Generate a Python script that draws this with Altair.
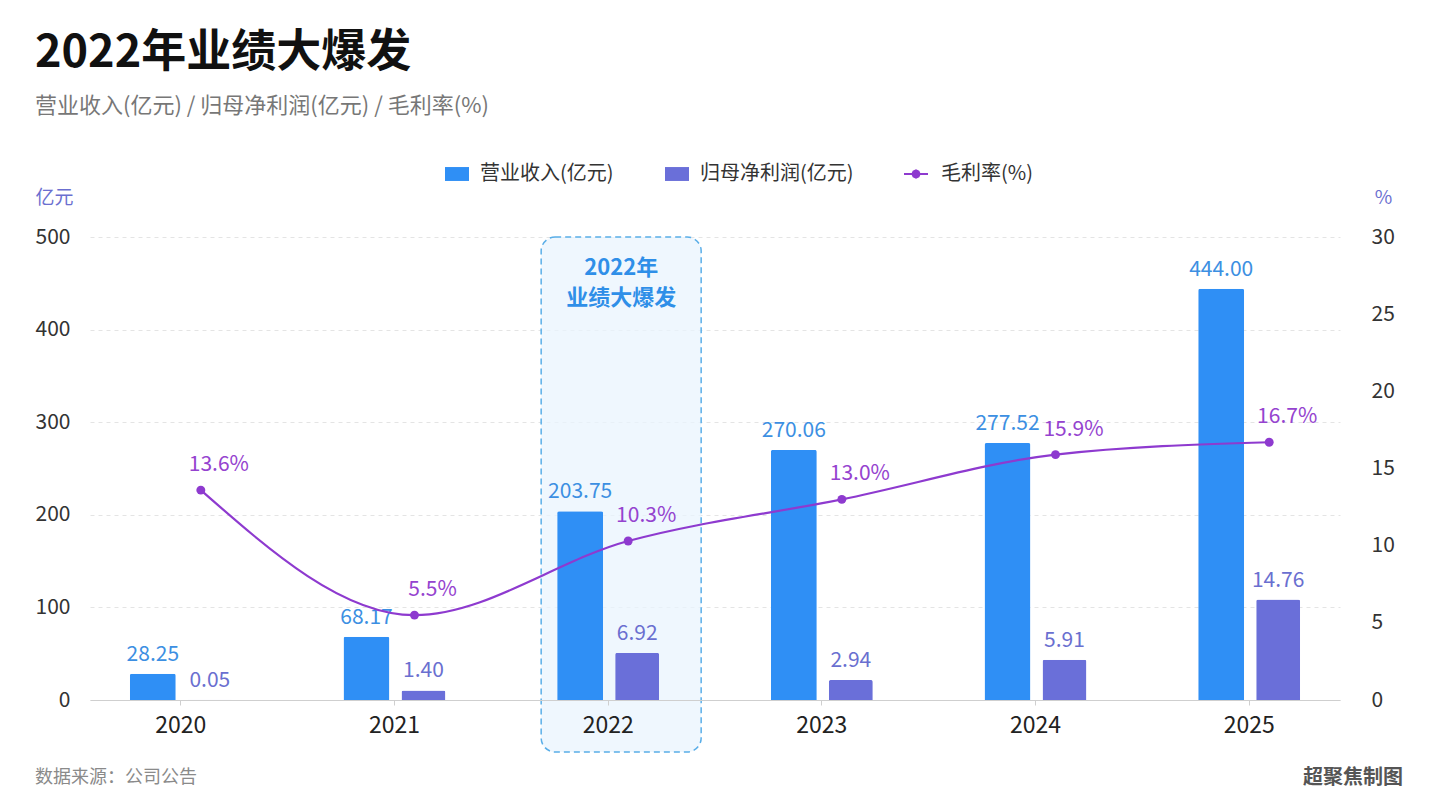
import altair as alt
import pandas as pd

# ---- data ----
years = ["2020", "2021", "2022", "2023", "2024", "2025"]
revenue = [28.25, 68.17, 203.75, 270.06, 277.52, 444.00]        # 营业收入(亿元)
net_profit = [0.05, 1.40, 6.92, 2.94, 5.91, 14.76]              # 归母净利润(亿元)
gross_margin = [13.6, 5.5, 10.3, 13.0, 15.9, 16.7]              # 毛利率(%)

highlight_year = ["2022"]
highlight_note = ["2022年", "业绩大爆发"]

REV_NAME = "营业收入(亿元)"
NET_NAME = "归母净利润(亿元)"
GM_NAME = "毛利率(%)"

df = pd.DataFrame({
    "year": years,
    "revenue": revenue,
    "net": net_profit,
    "gm": gross_margin,
})
df["gm_label"] = [f"{v:.1f}%" for v in gross_margin]
note_df = pd.DataFrame({"year": highlight_year})

FONT = "Noto Sans CJK SC"
BLUE = "#2F8FF5"
INDIGO = "#6A6FD9"
PURPLE = "#8E3ACF"

W, H = 1250, 463

x_enc = alt.X(
    "year:N",
    sort=years,
    scale=alt.Scale(paddingInner=0.15, paddingOuter=0),
    axis=alt.Axis(
        title=None, labelAngle=0, labelFontSize=23, labelColor="#222",
        labelPadding=9, domainColor="#cfcfcf", domainWidth=1.2,
        tickColor="#cfcfcf", tickSize=5, grid=False, zindex=1,
    ),
)

# highlight box around 2022
box = alt.Chart(note_df).mark_bar(
    width=160, cornerRadius=14, fill="#EAF4FE", fillOpacity=0.75,
    stroke="#5AAEE8", strokeDash=[6, 4], strokeWidth=1.5, xOffset=13,
).encode(x=x_enc, y=alt.value(0), y2=alt.value(515))

box_text = alt.Chart(note_df).mark_text(
    fontSize=22, fontWeight="bold", color="#2F8FE8",
    baseline="middle", lineHeight=30, xOffset=13,
    text=highlight_note,
).encode(x=x_enc, y=alt.value(31))

base = alt.Chart(df)

bar_color_scale = alt.Scale(domain=[REV_NAME, NET_NAME], range=[BLUE, INDIGO])

# revenue bars on the left axis
rev_y = alt.Y(
    "revenue:Q",
    scale=alt.Scale(domain=[0, 500], nice=False),
    axis=alt.Axis(
        orient="left", values=[0, 100, 200, 300, 400, 500],
        title="亿元", titleAngle=0, titleX=-55, titleY=-40,
        titleAlign="left", titleBaseline="middle", titleFontSize=19,
        titleFontWeight="normal", titleColor="#6B6FD0",
        labelFontSize=21, labelColor="#333", labelPadding=20,
        domain=False, ticks=False,
        grid=True, gridDash=[4, 4], gridColor="#E4E4E4",
    ),
)
rev_bars = base.transform_calculate(series=f"'{REV_NAME}'").mark_bar(
    width=46, xOffset=-28, cornerRadiusTopLeft=2, cornerRadiusTopRight=2,
).encode(
    x=x_enc, y=rev_y,
    color=alt.Color(
        "series:N",
        scale=bar_color_scale,
        legend=alt.Legend(
            title=None, orient="none", legendX=354, legendY=-76,
            direction="horizontal",
            symbolType="M-1,-0.58H1V0.58H-1Z", symbolSize=576,
            labelFontSize=20, labelColor="#333",
            labelOffset=10, columnPadding=50,
        ),
    ),
)
rev_text = base.mark_text(
    xOffset=-28, dy=-9, baseline="bottom", fontSize=21, color="#3C8FE2",
).encode(x=x_enc, y=rev_y, text=alt.Text("revenue:Q", format=".2f"))
rev_layer = alt.layer(rev_bars, rev_text)

# net profit bars on their own (hidden) scale
net_y = alt.Y("net:Q", scale=alt.Scale(domain=[0, 68], nice=False), axis=None)
net_bars = base.transform_calculate(series=f"'{NET_NAME}'").mark_bar(
    width=44, xOffset=29, cornerRadiusTopLeft=2, cornerRadiusTopRight=2,
).encode(x=x_enc, y=net_y, color=alt.Color("series:N", scale=bar_color_scale))
net_text = base.mark_text(
    xOffset=29, dy=-9, baseline="bottom", fontSize=21, color="#6A6FD0",
).encode(x=x_enc, y=net_y, text=alt.Text("net:Q", format=".2f"))
net_layer = alt.layer(net_bars, net_text)

# gross margin line on the right axis
gm_y = alt.Y(
    "gm:Q",
    scale=alt.Scale(domain=[0, 30], nice=False),
    axis=alt.Axis(
        orient="right", values=[0, 5, 10, 15, 20, 25, 30],
        title="%", titleAngle=0, titleX=43, titleY=-40,
        titleAlign="center", titleBaseline="middle", titleFontSize=19,
        titleFontWeight="normal", titleColor="#6B6FD0",
        labelFontSize=21, labelColor="#333", labelPadding=31,
        domain=False, ticks=False, grid=False,
    ),
)
# legend glyph: short line with a dot in the middle
LINE_DOT = ("M-1,0H1M0.3,0L0.21,0.21L0,0.3L-0.21,0.21L-0.3,0"
            "L-0.21,-0.21L0,-0.3L0.21,-0.21Z")
gm_line = base.transform_calculate(series=f"'{GM_NAME}'").mark_line(
    interpolate="monotone", strokeWidth=2.2, xOffset=20,
).encode(
    x=x_enc, y=gm_y,
    stroke=alt.Stroke(
        "series:N",
        scale=alt.Scale(domain=[GM_NAME], range=[PURPLE]),
        legend=alt.Legend(
            title=None, orient="none", legendX=813, legendY=-76,
            direction="horizontal",
            symbolType=LINE_DOT, symbolSize=576, symbolStrokeWidth=2,
            symbolFillColor=PURPLE,
            labelFontSize=20, labelColor="#333", labelOffset=12,
        ),
    ),
)
gm_pts = base.mark_circle(size=80, opacity=1, color=PURPLE, xOffset=20).encode(
    x=x_enc, y=gm_y
)
gm_text = base.mark_text(
    xOffset=38, dy=-25, baseline="middle", fontSize=21, color="#9543CF",
).encode(x=x_enc, y=gm_y, text="gm_label:N")
gm_layer = alt.layer(gm_line, gm_pts, gm_text)

# footer texts
footer = alt.Chart(note_df).mark_text(
    align="left", baseline="middle", fontSize=18, color="#8A8A8A",
    text="数据来源：公司公告",
).encode(x=alt.value(-55), y=alt.value(541))
credit = alt.Chart(note_df).mark_text(
    align="right", baseline="middle", fontSize=20, fontWeight="bold",
    color="#555555", text="超聚焦制图",
).encode(x=alt.value(1313), y=alt.value(541))

chart = alt.layer(
    box, box_text, rev_layer, net_layer, gm_layer, footer, credit,
).resolve_scale(
    y="independent",
).properties(
    width=W,
    height=H,
    padding={"left": 90, "top": 237, "right": 99, "bottom": 110},
    title=alt.TitleParams(
        text="2022年业绩大爆发",
        subtitle="营业收入(亿元) / 归母净利润(亿元) / 毛利率(%)",
        anchor="start", frame="bounds",
        fontSize=45, fontWeight="bold", color="#111111",
        subtitleFontSize=22, subtitleColor="#777777",
        subtitlePadding=20, offset=44,
    ),
).configure(
    font=FONT, background="white", autosize=alt.AutoSizeParams(type="none"),
).configure_view(stroke=None)

chart.save("out.html", embed_options={"renderer": "svg", "actions": False})
